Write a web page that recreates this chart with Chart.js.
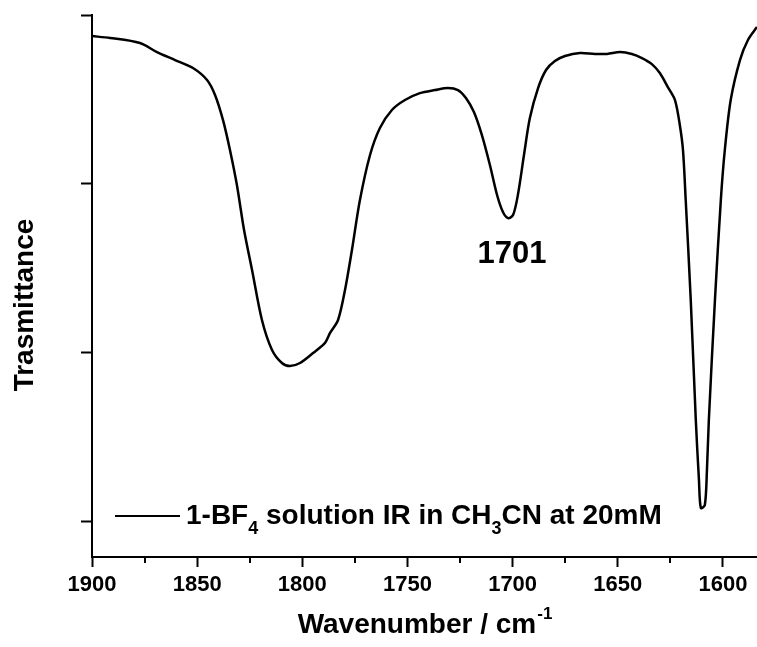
<!DOCTYPE html>
<html>
<head>
<meta charset="utf-8">
<script src="https://cdn.jsdelivr.net/npm/chart.js@4.4.1/dist/chart.umd.min.js"></script>
<style>
  html, body { margin: 0; padding: 0; background: #fff; }
  #wrap { width: 757px; height: 647px; }
</style>
</head>
<body>
<div id="wrap"><canvas id="c" width="757" height="647"></canvas></div>
<script>
const wavenumbers = [1900, 1891.4, 1877.2, 1869.1, 1860.5, 1852.0, 1845.3, 1841.5, 1837.7, 1834.4, 1831.1, 1827.7, 1823.9, 1819.2, 1814.4, 1809.7, 1805.9, 1801.1, 1794.9, 1789.2, 1786.8, 1783.0, 1779.7, 1776.4, 1772.6, 1767.8, 1763.1, 1757.4, 1751.2, 1744.1, 1736.9, 1730.7, 1726.0, 1722.2, 1718.4, 1714.6, 1710.8, 1707.4, 1704.6, 1702.2, 1699.8, 1697.5, 1694.6, 1691.8, 1687.9, 1684.1, 1679.9, 1675.1, 1668.0, 1660.9, 1655.1, 1648.9, 1643.3, 1638.5, 1633.8, 1630.0, 1626.2, 1622.8, 1620.5, 1619.0, 1617.7, 1615.3, 1612.9, 1611.4, 1610.5, 1608.6, 1607.6, 1606.7, 1603.8, 1601.0, 1599.1, 1596.3, 1591.9, 1588.1, 1583.8];
const transmittance = [3.875, 3.864, 3.834, 3.780, 3.733, 3.686, 3.615, 3.526, 3.377, 3.200, 2.992, 2.725, 2.488, 2.192, 2.014, 1.937, 1.919, 1.937, 1.996, 2.056, 2.115, 2.192, 2.370, 2.607, 2.903, 3.170, 3.330, 3.437, 3.496, 3.537, 3.555, 3.567, 3.555, 3.508, 3.425, 3.288, 3.111, 2.933, 2.832, 2.796, 2.814, 2.933, 3.170, 3.389, 3.567, 3.674, 3.727, 3.757, 3.775, 3.769, 3.769, 3.780, 3.769, 3.745, 3.709, 3.656, 3.573, 3.496, 3.348, 3.200, 2.903, 2.310, 1.599, 1.243, 1.077, 1.095, 1.303, 1.599, 2.310, 2.903, 3.200, 3.496, 3.733, 3.852, 3.929];
const xMajorTicks = [1900, 1850, 1800, 1750, 1700, 1650, 1600];
const xMinorTicks = [1875, 1825, 1775, 1725, 1675, 1625];
const yTicks = [1, 2, 3, 4];
const xRange = [1583.8, 1900];
const yRange = [0.787, 4];
const peakLabels = ['1701'];
const peakLabelX = [1700.3];
const peakLabelY = [2.583];
const seriesName = '1-BF4 solution IR in CH3CN at 20mM';
const xTitle = 'Wavenumber / cm';
const xTitleSup = '-1';
const yTitle = 'Trasmittance';

const FONT = '"Liberation Sans", Arial, Helvetica, sans-serif';

const points = wavenumbers.map((w, i) => ({ x: w, y: transmittance[i] }));

const decor = {
  id: 'decor',
  afterDraw(chart) {
    const ctx = chart.ctx;
    const xs = chart.scales.x, ys = chart.scales.y;
    const area = chart.chartArea;
    ctx.save();
    // minor ticks on x axis
    ctx.strokeStyle = '#000';
    ctx.lineWidth = 2;
    xMinorTicks.forEach(v => {
      const px = Math.round(xs.getPixelForValue(v));
      ctx.beginPath();
      ctx.moveTo(px, area.bottom);
      ctx.lineTo(px, area.bottom + 6);
      ctx.stroke();
    });
    ctx.fillStyle = '#000';
    // peak annotation
    ctx.font = 'bold 31px ' + FONT;
    ctx.textAlign = 'center';
    ctx.textBaseline = 'middle';
    peakLabels.forEach((t, i) => {
      ctx.fillText(t, xs.getPixelForValue(peakLabelX[i]), ys.getPixelForValue(peakLabelY[i]));
    });
    // y title
    ctx.save();
    ctx.translate(25, 305);
    ctx.rotate(-Math.PI / 2);
    ctx.font = 'bold 28px ' + FONT;
    ctx.textAlign = 'center';
    ctx.textBaseline = 'middle';
    ctx.fillText(yTitle, 0, 0);
    ctx.restore();
    // x title with superscript
    ctx.textAlign = 'left';
    ctx.textBaseline = 'alphabetic';
    const mainFont = 'bold 28px ' + FONT, supFont = 'bold 17px ' + FONT;
    ctx.font = mainFont; const w1 = ctx.measureText(xTitle).width;
    ctx.font = supFont; const w2 = ctx.measureText(xTitleSup).width;
    let sx = (area.left + area.right) / 2 - (w1 + w2) / 2;
    const by = 633;
    ctx.font = mainFont; ctx.fillText(xTitle, sx, by);
    ctx.font = supFont; ctx.fillText(xTitleSup, sx + w1 + 1, by - 14);
    // legend
    const lx0 = 115, lx1 = 180, ly = 516;
    ctx.lineWidth = 2.2;
    ctx.beginPath(); ctx.moveTo(lx0, ly); ctx.lineTo(lx1, ly); ctx.stroke();
    const parts = [
      ['1-BF', false], ['4', true], [' solution IR in CH', false], ['3', true], ['CN at 20mM', false]
    ];
    let tx = 186;
    const tb = 524;
    parts.forEach(([s, sub]) => {
      ctx.font = sub ? 'bold 18px ' + FONT : 'bold 28px ' + FONT;
      ctx.fillText(s, tx, sub ? tb + 10 : tb);
      tx += ctx.measureText(s).width;
    });
    ctx.restore();
  }
};

new Chart(document.getElementById('c'), {
  type: 'line',
  data: {
    datasets: [{
      label: seriesName,
      data: points,
      borderColor: '#000',
      borderWidth: 2.5,
      pointRadius: 0,
      fill: false,
      tension: 0.3
    }]
  },
  options: {
    responsive: false,
    animation: false,
    devicePixelRatio: 1,
    layout: { padding: { top: 15, right: 0, left: 0, bottom: 0 } },
    plugins: { legend: { display: false }, tooltip: { enabled: false } },
    scales: {
      x: {
        type: 'linear',
        reverse: true,
        min: xRange[0],
        max: xRange[1],
        afterBuildTicks(scale) { scale.ticks = xMajorTicks.map(v => ({ value: v })); },
        afterFit(scale) { scale.height = 90; },
        border: { display: true, color: '#000', width: 2 },
        grid: { drawOnChartArea: false, drawTicks: true, tickLength: 10, tickWidth: 2, tickColor: '#000' },
        ticks: {
          autoSkip: false, maxRotation: 0, padding: 5, color: '#000',
          font: { family: FONT, size: 22, weight: 'bold' },
          callback: v => String(v)
        }
      },
      y: {
        type: 'linear',
        min: yRange[0],
        max: yRange[1],
        afterBuildTicks(scale) { scale.ticks = yTicks.map(v => ({ value: v })); },
        afterFit(scale) { scale.width = 92; },
        border: { display: true, color: '#000', width: 2 },
        grid: { drawOnChartArea: false, drawTicks: true, tickLength: 11, tickWidth: 2, tickColor: '#000' },
        ticks: { display: false }
      }
    }
  },
  plugins: [decor]
});
</script>
</body>
</html>
